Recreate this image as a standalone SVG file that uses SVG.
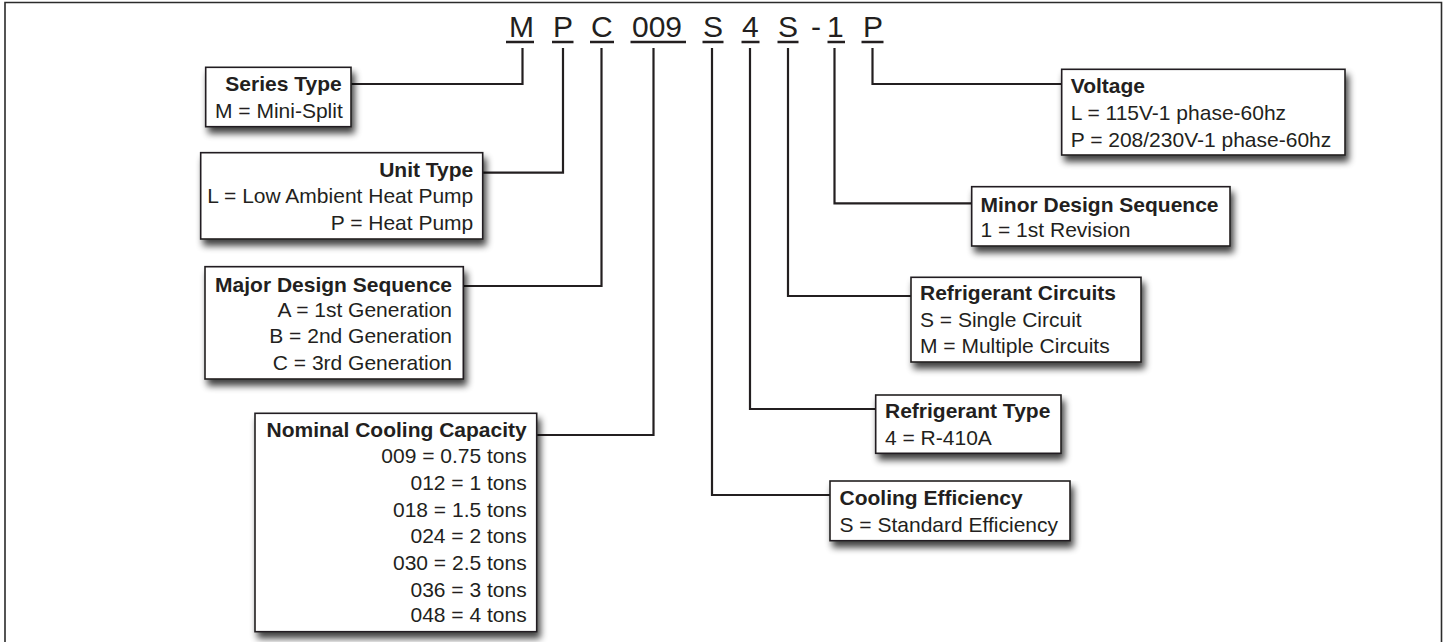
<svg xmlns="http://www.w3.org/2000/svg" width="1447" height="642" viewBox="0 0 1447 642">
<defs>
<filter id="sh" x="-10%" y="-10%" width="130%" height="140%">
<feGaussianBlur in="SourceAlpha" stdDeviation="3.5"/>
<feOffset dx="3" dy="6" result="b"/>
<feComponentTransfer><feFuncA type="linear" slope="0.75"/></feComponentTransfer>
<feMerge><feMergeNode/><feMergeNode in="SourceGraphic"/></feMerge>
</filter>
<style>
.box{fill:#fff;stroke:#231f20;stroke-width:1.6;filter:url(#sh)}
.t{font-family:"Liberation Sans",Arial,sans-serif;font-size:21px;fill:#231f20}
.b{font-weight:bold}
.r{text-anchor:end}
.code{font-family:"Liberation Sans",Arial,sans-serif;font-size:30px;fill:#231f20}
.ln{fill:none;stroke:#231f20;stroke-width:2.2}
.ul{stroke:#231f20;stroke-width:2.6}
</style>
</defs>
<rect width="1447" height="642" fill="#fff"/>
<path d="M5,645 V2.5 H1441.5 V645" fill="none" stroke="#2b2b2b" stroke-width="1.6"/>

<g id="code">
<text class="code" x="509" y="37">M</text>
<text class="code" x="553" y="37">P</text>
<text class="code" x="591" y="37">C</text>
<text class="code" x="632" y="37">009</text>
<text class="code" x="703" y="37">S</text>
<text class="code" x="742" y="37">4</text>
<text class="code" x="778" y="37">S</text>
<text class="code" x="811" y="37">-</text>
<text class="code" x="827" y="37">1</text>
<text class="code" x="863" y="37">P</text>
<path class="ul" d="M506,42 H534 M552,42 H573.5 M590,42 H614 M630.5,42 H686 M702.5,42 H723.5 M741.5,42 H759.5 M777.5,42 H798.5 M827.5,42 H845 M861.5,42 H883.5"/>
</g>

<g id="connectors">
<path class="ln" d="M522.5,48 V84 H351"/>
<path class="ln" d="M563,48 V172.7 H482.7"/>
<path class="ln" d="M601.5,48 V286 H463.3"/>
<path class="ln" d="M653.5,48 V435 H536.7"/>
<path class="ln" d="M712,48 V495 H830"/>
<path class="ln" d="M750,48 V409 H875.7"/>
<path class="ln" d="M788,48 V296 H911"/>
<path class="ln" d="M834.5,48 V203.3 H971.7"/>
<path class="ln" d="M872.5,48 V84 H1061.7"/>
</g>

<g id="series-type">
<rect class="box" x="205.7" y="67.3" width="145.3" height="59.4"/>
<text class="t b r" x="341.7" y="91.3">Series Type</text>
<text class="t" x="215" y="118">M = Mini-Split</text>
</g>

<g id="unit-type">
<rect class="box" x="200.7" y="152.7" width="282" height="86.3"/>
<text class="t b r" x="473.3" y="176.7">Unit Type</text>
<text class="t r" x="473.3" y="203.3">L = Low Ambient Heat Pump</text>
<text class="t r" x="473.3" y="230">P = Heat Pump</text>
</g>

<g id="major-design">
<rect class="box" x="205" y="266.7" width="258.3" height="112.3"/>
<text class="t b r" x="452" y="291.7">Major Design Sequence</text>
<text class="t r" x="452" y="316.7">A = 1st Generation</text>
<text class="t r" x="452" y="343.3">B = 2nd Generation</text>
<text class="t r" x="452" y="370">C = 3rd Generation</text>
</g>

<g id="nominal-capacity">
<rect class="box" x="255" y="413.3" width="281.7" height="218.4"/>
<text class="t b r" x="526.7" y="436.7">Nominal Cooling Capacity</text>
<text class="t r" x="526.7" y="463.3">009 = 0.75 tons</text>
<text class="t r" x="526.7" y="490">012 = 1 tons</text>
<text class="t r" x="526.7" y="516.7">018 = 1.5 tons</text>
<text class="t r" x="526.7" y="543.3">024 = 2 tons</text>
<text class="t r" x="526.7" y="570">030 = 2.5 tons</text>
<text class="t r" x="526.7" y="596.7">036 = 3 tons</text>
<text class="t r" x="526.7" y="621.7">048 = 4 tons</text>
</g>

<g id="voltage">
<rect class="box" x="1061.7" y="69.3" width="283.3" height="85.7"/>
<text class="t b" x="1070.7" y="93.3">Voltage</text>
<text class="t" x="1070.7" y="120">L = 115V-1 phase-60hz</text>
<text class="t" x="1070.7" y="146.7">P = 208/230V-1 phase-60hz</text>
</g>

<g id="minor-design">
<rect class="box" x="971.7" y="186.7" width="258.3" height="59.3"/>
<text class="t b" x="980.5" y="211.7">Minor Design Sequence</text>
<text class="t" x="980.5" y="236.7">1 = 1st Revision</text>
</g>

<g id="refrigerant-circuits">
<rect class="box" x="911" y="277.3" width="230" height="84.7"/>
<text class="t b" x="920" y="300">Refrigerant Circuits</text>
<text class="t" x="920" y="326.7">S = Single Circuit</text>
<text class="t" x="920" y="353.3">M = Multiple Circuits</text>
</g>

<g id="refrigerant-type">
<rect class="box" x="875.7" y="395" width="185.3" height="58.3"/>
<text class="t b" x="885" y="418.3">Refrigerant Type</text>
<text class="t" x="885" y="445">4 = R-410A</text>
</g>

<g id="cooling-efficiency">
<rect class="box" x="830" y="481" width="240" height="59.7"/>
<text class="t b" x="839.5" y="505">Cooling Efficiency</text>
<text class="t" x="839.5" y="531.7">S = Standard Efficiency</text>
</g>
</svg>
